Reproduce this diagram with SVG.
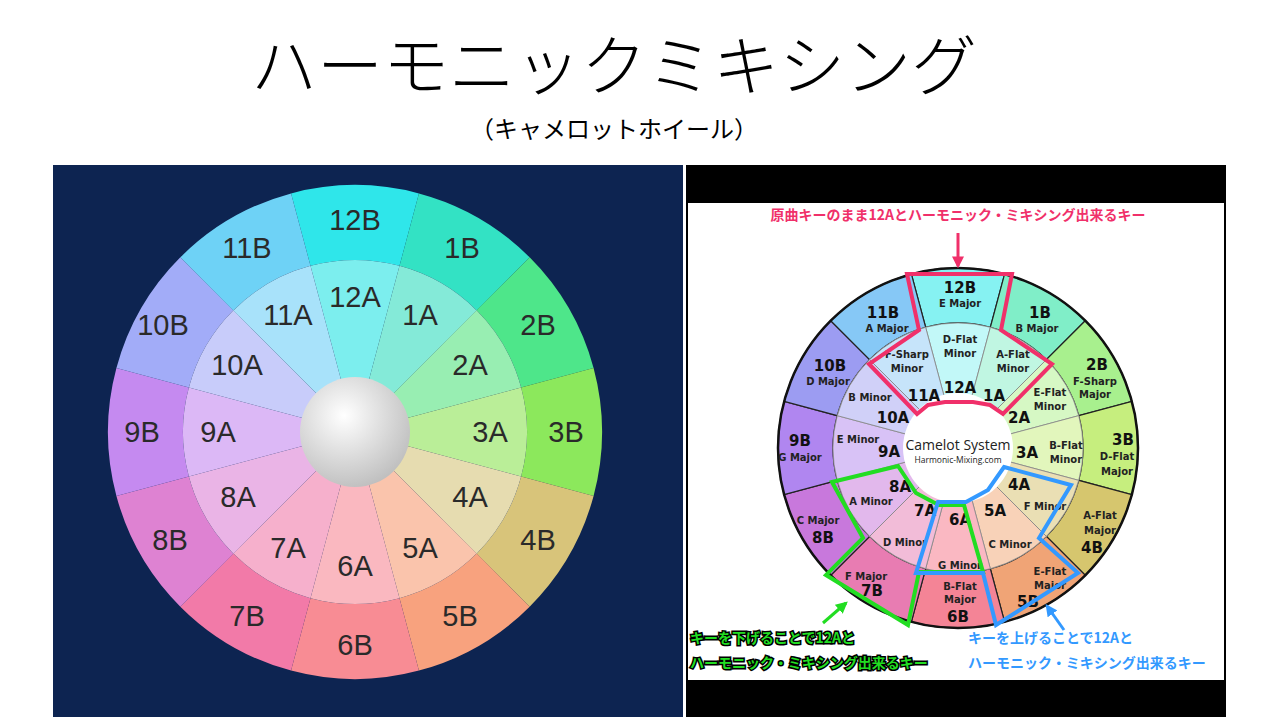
<svg xmlns="http://www.w3.org/2000/svg" xmlns:xlink="http://www.w3.org/1999/xlink" width="1280" height="720" viewBox="0 0 1280 720">
<defs>
<path id="lB" d="M -63.93 -238.58 A 247 247 0 0 1 63.93 -238.58 L 44.52 -166.14 A 172 172 0 0 0 -44.52 -166.14 Z"/>
<path id="lA" d="M 0 0 L -44.52 -166.14 A 172 172 0 0 1 44.52 -166.14 Z"/>
<path id="rB" d="M -46.59 -173.86 A 180 180 0 0 1 46.59 -173.86 L 32.35 -120.74 A 125 125 0 0 0 -32.35 -120.74 Z"/>
<path id="rA" d="M 0 0 L -32.35 -120.74 A 125 125 0 0 1 32.35 -120.74 Z"/>
<radialGradient id="hub" cx="0.4" cy="0.35" r="0.7"><stop offset="0" stop-color="#ffffff"/><stop offset="1" stop-color="#bdbdbd"/></radialGradient>
<marker id="ah" viewBox="0 0 10 10" refX="8" refY="5" markerWidth="4" markerHeight="4" orient="auto"><path d="M0 0 L10 5 L0 10 z" fill="context-stroke"/></marker>
</defs>
<style>
.lt{font-family:"Liberation Sans",Arial,sans-serif;font-size:29px;fill:#2a2a2a;text-anchor:middle}
.rt{font-family:"DejaVu Sans",sans-serif;font-weight:bold;font-size:15px;fill:#111;text-anchor:middle}
.rs{font-family:"DejaVu Sans",sans-serif;font-weight:bold;font-size:10px;fill:#222;text-anchor:middle}
.jp{font-family:"Noto Sans CJK JP",sans-serif;font-weight:bold;font-size:14px;paint-order:stroke}
.rbw use{stroke:#222;stroke-width:1.2}
.raw use{stroke:#888;stroke-width:0.8}
</style>
<rect width="1280" height="720" fill="#fff"/>
<text x="614" y="90" font-family="Noto Sans CJK JP,sans-serif" font-weight="300" font-size="66" text-anchor="middle" fill="#000">ハーモニックミキシング</text>
<text x="614" y="138" font-family="Noto Sans CJK JP,sans-serif" font-size="24" text-anchor="middle" fill="#000">（キャメロットホイール）</text>

<g id="leftPanel">
<rect x="53" y="165" width="630" height="552" fill="#0d2451"/>
<g transform="translate(355,432)">
<use href="#lB" fill="#2fe6ea" transform="rotate(0)"/>
<use href="#lB" fill="#33e2c4" transform="rotate(30)"/>
<use href="#lB" fill="#4ee68a" transform="rotate(60)"/>
<use href="#lB" fill="#8ce85c" transform="rotate(90)"/>
<use href="#lB" fill="#d8c47a" transform="rotate(120)"/>
<use href="#lB" fill="#f8a27e" transform="rotate(150)"/>
<use href="#lB" fill="#f88c94" transform="rotate(180)"/>
<use href="#lB" fill="#f27aa8" transform="rotate(210)"/>
<use href="#lB" fill="#de82d2" transform="rotate(240)"/>
<use href="#lB" fill="#c58af0" transform="rotate(270)"/>
<use href="#lB" fill="#a2acf8" transform="rotate(300)"/>
<use href="#lB" fill="#6ed2f6" transform="rotate(330)"/>
<use href="#lA" fill="#7ceeee" transform="rotate(0)"/>
<use href="#lA" fill="#84ead8" transform="rotate(30)"/>
<use href="#lA" fill="#98eeb2" transform="rotate(60)"/>
<use href="#lA" fill="#baee98" transform="rotate(90)"/>
<use href="#lA" fill="#e6dcb0" transform="rotate(120)"/>
<use href="#lA" fill="#fac4ac" transform="rotate(150)"/>
<use href="#lA" fill="#fab8c0" transform="rotate(180)"/>
<use href="#lA" fill="#f6b0cc" transform="rotate(210)"/>
<use href="#lA" fill="#eab4e6" transform="rotate(240)"/>
<use href="#lA" fill="#dcb8f6" transform="rotate(270)"/>
<use href="#lA" fill="#c8ccfa" transform="rotate(300)"/>
<use href="#lA" fill="#a8e2fa" transform="rotate(330)"/>
<circle r="55" fill="url(#hub)"/>
</g>
<text class="lt" x="355" y="230">12B</text><text class="lt" x="462" y="258">1B</text><text class="lt" x="538" y="335">2B</text><text class="lt" x="566" y="442">3B</text>
<text class="lt" x="538" y="550">4B</text><text class="lt" x="460" y="626">5B</text><text class="lt" x="355" y="655">6B</text><text class="lt" x="247" y="626">7B</text>
<text class="lt" x="170" y="550">8B</text><text class="lt" x="142" y="442">9B</text><text class="lt" x="163" y="335">10B</text><text class="lt" x="247" y="258">11B</text>
<text class="lt" x="355" y="307">12A</text><text class="lt" x="420" y="325">1A</text><text class="lt" x="470" y="375">2A</text><text class="lt" x="490" y="442">3A</text>
<text class="lt" x="470" y="507">4A</text><text class="lt" x="420" y="558">5A</text><text class="lt" x="355" y="576">6A</text><text class="lt" x="288" y="558">7A</text>
<text class="lt" x="238" y="507">8A</text><text class="lt" x="218" y="442">9A</text><text class="lt" x="237" y="375">10A</text><text class="lt" x="288" y="325">11A</text>
</g>

<g id="rightPanel">
<rect x="686" y="165" width="540" height="552" fill="#000"/>
<rect x="688" y="203" width="536" height="477" fill="#fff"/>
<g transform="translate(958,448)">
<g class="rbw">
<use href="#rB" fill="#86f2f2" transform="rotate(0)"/>
<use href="#rB" fill="#80eec8" transform="rotate(30)"/>
<use href="#rB" fill="#a8f08e" transform="rotate(60)"/>
<use href="#rB" fill="#c6ee7e" transform="rotate(90)"/>
<use href="#rB" fill="#d6c66e" transform="rotate(120)"/>
<use href="#rB" fill="#f0a476" transform="rotate(150)"/>
<use href="#rB" fill="#f48496" transform="rotate(180)"/>
<use href="#rB" fill="#e87cb2" transform="rotate(210)"/>
<use href="#rB" fill="#c878dc" transform="rotate(240)"/>
<use href="#rB" fill="#b086f0" transform="rotate(270)"/>
<use href="#rB" fill="#9c9cf2" transform="rotate(300)"/>
<use href="#rB" fill="#86c8f6" transform="rotate(330)"/>
</g>
<g class="raw">
<use href="#rA" fill="#c2f8f8" transform="rotate(0)"/>
<use href="#rA" fill="#c0f6e2" transform="rotate(30)"/>
<use href="#rA" fill="#d6f8c4" transform="rotate(60)"/>
<use href="#rA" fill="#e2f6bc" transform="rotate(90)"/>
<use href="#rA" fill="#eadfb4" transform="rotate(120)"/>
<use href="#rA" fill="#f8d2b8" transform="rotate(150)"/>
<use href="#rA" fill="#fab8c2" transform="rotate(180)"/>
<use href="#rA" fill="#f2bcd8" transform="rotate(210)"/>
<use href="#rA" fill="#e2b8ec" transform="rotate(240)"/>
<use href="#rA" fill="#d8c2f6" transform="rotate(270)"/>
<use href="#rA" fill="#d0d0f8" transform="rotate(300)"/>
<use href="#rA" fill="#c6e4fa" transform="rotate(330)"/>
</g>
<circle r="180" fill="none" stroke="#111" stroke-width="2.5"/>
<circle r="55" fill="#fff"/>
</g>
<text x="958" y="450" font-family="Open Sans,sans-serif" font-size="14" text-anchor="middle" fill="#222">Camelot System</text>
<text x="958" y="463" font-family="Open Sans,sans-serif" font-size="8.5" text-anchor="middle" fill="#222">Harmonic-Mixing.com</text>

<text class="rt" x="960" y="293">12B</text><text class="rs" x="960" y="307">E Major</text>
<text class="rt" x="1040" y="318">1B</text><text class="rs" x="1037" y="332">B Major</text>
<text class="rt" x="883" y="318">11B</text><text class="rs" x="887" y="332">A Major</text>
<text class="rt" x="830" y="371">10B</text><text class="rs" x="828" y="385">D Major</text>
<text class="rt" x="1097" y="370">2B</text><text class="rs" x="1095" y="385">F-Sharp</text><text class="rs" x="1095" y="398">Major</text>
<text class="rt" x="800" y="446">9B</text><text class="rs" x="800" y="461">G Major</text>
<text class="rt" x="1123" y="445">3B</text><text class="rs" x="1117" y="460">D-Flat</text><text class="rs" x="1117" y="475">Major</text>
<text class="rs" x="1100" y="519">A-Flat</text><text class="rs" x="1100" y="534">Major</text><text class="rt" x="1092" y="553">4B</text>
<text class="rs" x="818" y="524">C Major</text><text class="rt" x="823" y="543">8B</text>
<text class="rs" x="1050" y="575">E-Flat</text><text class="rs" x="1050" y="589">Major</text><text class="rt" x="1028" y="607">5B</text>
<text class="rs" x="866" y="580">F Major</text><text class="rt" x="872" y="596">7B</text>
<text class="rs" x="960" y="590">B-Flat</text><text class="rs" x="960" y="603">Major</text><text class="rt" x="958" y="622">6B</text>

<text class="rs" x="960" y="343">D-Flat</text><text class="rs" x="960" y="357">Minor</text>
<text class="rs" x="1013" y="358">A-Flat</text><text class="rs" x="1013" y="372">Minor</text>
<text class="rs" x="907" y="358">F-Sharp</text><text class="rs" x="907" y="372">Minor</text>
<text class="rs" x="1050" y="396">E-Flat</text><text class="rs" x="1050" y="410">Minor</text>
<text class="rs" x="870" y="401">B Minor</text>
<text class="rs" x="858" y="443">E Minor</text>
<text class="rs" x="1066" y="449">B-Flat</text><text class="rs" x="1066" y="463">Minor</text>
<text class="rs" x="1045" y="510">F Minor</text>
<text class="rs" x="871" y="505">A Minor</text>
<text class="rs" x="905" y="546">D Minor</text>
<text class="rs" x="1010" y="548">C Minor</text>
<text class="rs" x="960" y="569">G Minor</text>

<text class="rt" x="960" y="393" font-size="17">12A</text><text class="rt" x="994" y="401" font-size="17">1A</text><text class="rt" x="924" y="401" font-size="17">11A</text>
<text class="rt" x="1019" y="423" font-size="17">2A</text><text class="rt" x="893" y="423" font-size="17">10A</text><text class="rt" x="1027" y="458" font-size="17">3A</text>
<text class="rt" x="889" y="457" font-size="17">9A</text><text class="rt" x="1019" y="490" font-size="17">4A</text><text class="rt" x="900" y="492" font-size="17">8A</text>
<text class="rt" x="995" y="516" font-size="17">5A</text><text class="rt" x="925" y="516" font-size="17">7A</text><text class="rt" x="960" y="525" font-size="17">6A</text>

<g id="highlights" fill="none" stroke-width="4" stroke-linejoin="miter">
<polygon stroke="#f0306a" points="907,274 1012,274 1001,330 1052,364 1003,414 990,405 973,402 945,402 928,405 917,414 869,364 919,330"/>
<polygon stroke="#22dd22" points="832,482 898,466 916,493 933,502 939,505 964,505 983,572 919,572 908,625 826,575 863,538"/>
<polygon stroke="#3399ff" points="1004,467 1071,485 1039,538 1078,573 996,625 983,573 916,573 938,502 966,502 988,490"/>
</g>
</g>

<g id="connectors" stroke-width="3" fill="none" marker-end="url(#ah)">
<line x1="958" y1="233" x2="958" y2="266" stroke="#f0306a"/>
<line x1="823" y1="623" x2="846" y2="603" stroke="#22dd22"/>
<line x1="1064" y1="630" x2="1047" y2="606" stroke="#3399ff"/>
</g>
<text class="jp" x="958" y="220" text-anchor="middle" font-size="13" fill="#f0306a" stroke="#fff" stroke-width="2">原曲キーのまま12Aとハーモニック・ミキシング出来るキー</text>
<text class="jp" x="690" y="643" fill="#22dd22" stroke="#000" stroke-width="3">キーを下げることで12Aと</text>
<text class="jp" x="690" y="668" fill="#22dd22" stroke="#000" stroke-width="3">ハーモニック・ミキシング出来るキー</text>
<text class="jp" x="968" y="643" fill="#3399ff" stroke="#fff" stroke-width="2">キーを上げることで12Aと</text>
<text class="jp" x="968" y="668" fill="#3399ff" stroke="#fff" stroke-width="2">ハーモニック・ミキシング出来るキー</text>
</svg>
